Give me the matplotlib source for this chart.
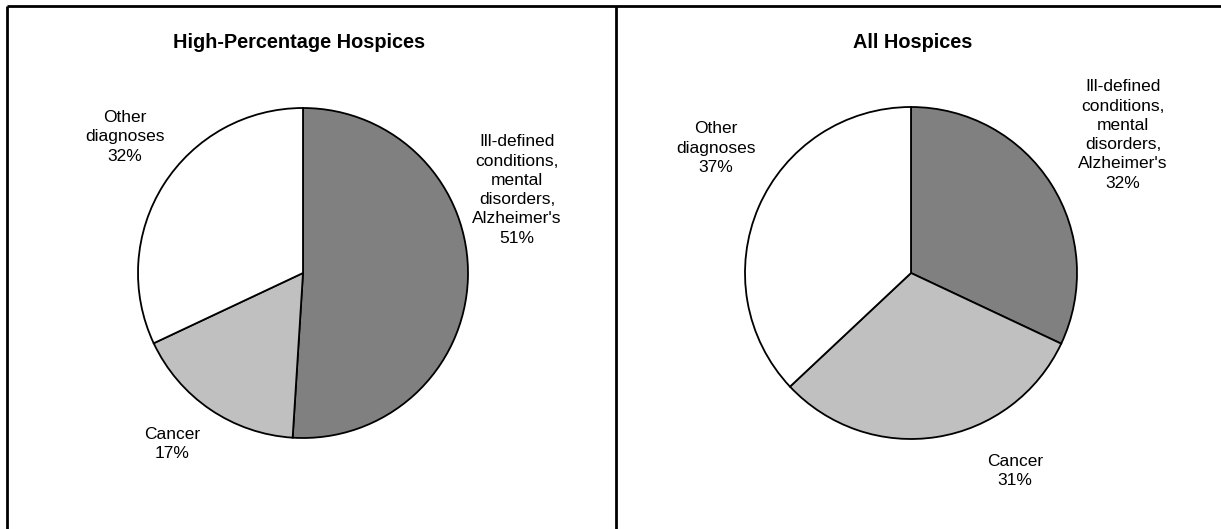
import matplotlib
matplotlib.use("Agg")
import matplotlib.pyplot as plt

plt.rcParams['font.family'] = ['Liberation Sans', 'DejaVu Sans']

# Data
titles = ["High-Percentage Hospices", "All Hospices"]
categories = ["Ill-defined\nconditions,\nmental\ndisorders,\nAlzheimer's", "Cancer", "Other\ndiagnoses"]
high_pct = [51, 17, 32]
all_pct = [32, 31, 37]
colors = ["#808080", "#c0c0c0", "#ffffff"]

W, H = 1221, 529
fig = plt.figure(figsize=(W / 100, H / 100), dpi=100)
ax = fig.add_axes([0, 0, 1, 1])

def Y(y):
    return H - y

panels = [
    dict(values=high_pct, title=titles[0], cx=303, cy=273, r=165, tx=299,
         label_pos=[(517, 190), (172, 444), (125, 137)]),
    dict(values=all_pct, title=titles[1], cx=911, cy=273, r=166, tx=913,
         label_pos=[(1123, 135), (1015, 471), (716, 148)]),
]

for p in panels:
    ax.pie(p["values"], colors=colors, startangle=90, counterclock=False,
           center=(p["cx"], Y(p["cy"])), radius=p["r"],
           wedgeprops=dict(edgecolor="black", linewidth=1.3))
    ax.text(p["tx"], Y(43), p["title"], ha="center", va="center",
            fontsize=14.3, fontweight="bold", color="black")
    for cat, v, (lx, ly) in zip(categories, p["values"], p["label_pos"]):
        ax.text(lx, Y(ly), f"{cat}\n{v}%", ha="center", va="center",
                fontsize=12.5, linespacing=1.36, color="black")

# panel borders
ax.plot([7, W], [Y(6), Y(6)], color="black", lw=2, solid_capstyle="butt")
ax.plot([7, 7], [Y(6), 0], color="black", lw=2, solid_capstyle="butt")
ax.plot([616, 616], [Y(6), 0], color="black", lw=2, solid_capstyle="butt")

ax.set_xlim(0, W)
ax.set_ylim(0, H)
ax.set_aspect("auto")
ax.axis("off")

fig.savefig("out.png", dpi=100)
